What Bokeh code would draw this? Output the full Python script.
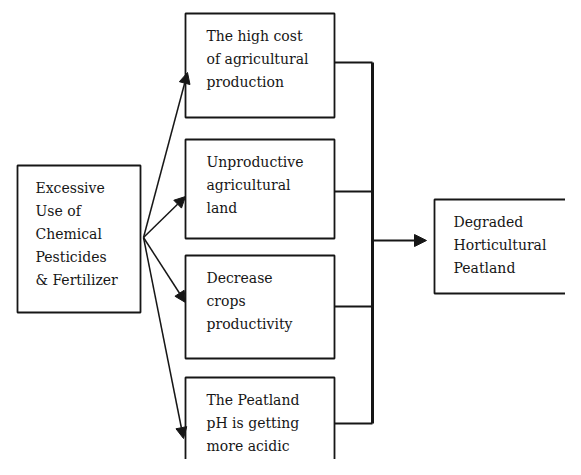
from bokeh.plotting import figure
from bokeh.models import Range1d, Arrow, NormalHead
from bokeh.core.properties import value
from bokeh.embed import file_html
from bokeh.resources import INLINE

# ---- content ----
source_lines = ["Excessive", "Use of", "Chemical", "Pesticides", "& Fertilizer"]
cause_lines = [
    ["The high cost", "of agricultural", "production"],
    ["Unproductive", "agricultural", "land"],
    ["Decrease", "crops", "productivity"],
    ["The Peatland", "pH is getting", "more acidic"],
]
outcome_lines = ["Degraded", "Horticultural", "Peatland"]

# ---- layout (pixel-like coordinates, y downward) ----
src_box = (17, 140, 165, 312)          # left, right, top, bottom
cause_left, cause_right = 185, 334
cause_tops = [13, 139, 255, 377]
cause_bottoms = [117, 238, 358, 500]
cause_join_y = [62, 191, 306, 423]
arrow_tip = [(187, 72), (185, 196), (185, 302), (183, 438)]
arrow_origin = (143, 237)
bus_x = 372
out_box = (434, 620, 199, 293)
out_arrow_y = 240
line_gap = 23
first_offset = 22

FONT = "DejaVu Serif"
FS = "14px"
INK = "#161616"

p = figure(width=565, height=459, output_backend="svg", toolbar_location=None,
           x_range=Range1d(0, 565), y_range=Range1d(459, 0),
           min_border=0, outline_line_color=None)
p.axis.visible = False
p.grid.visible = False
p.background_fill_color = "white"
p.border_fill_color = "white"

def box(l, r, t, b):
    p.quad(left=[l], right=[r], top=[t], bottom=[b], fill_color="white",
           line_color=INK, line_width=1.8)

def lines(x, top, texts):
    ys = [top + first_offset + i * line_gap for i in range(len(texts))]
    p.text(x=[x] * len(texts), y=ys, text=texts, text_font=value(FONT),
           text_font_size=FS, text_baseline="middle", text_align="left",
           text_color=INK)

# connectors (drawn first so boxes sit on top)
for y in cause_join_y:
    p.line([cause_right, bus_x], [y, y], line_color=INK, line_width=1.8)
p.line([bus_x, bus_x], [cause_join_y[0], cause_join_y[-1]], line_color=INK, line_width=3)

# arrows from source
for tx, ty in arrow_tip:
    p.add_layout(Arrow(x_start=arrow_origin[0], y_start=arrow_origin[1], x_end=tx, y_end=ty,
                       line_color=INK, line_width=1.5,
                       end=NormalHead(size=11, fill_color=INK, line_color=INK)))
p.add_layout(Arrow(x_start=bus_x, y_start=out_arrow_y, x_end=426, y_end=out_arrow_y,
                   line_color=INK, line_width=1.8,
                   end=NormalHead(size=12, fill_color=INK, line_color=INK)))

box(*src_box)
lines(35, src_box[2], source_lines)
for t, b, texts in zip(cause_tops, cause_bottoms, cause_lines):
    box(cause_left, cause_right, t, b)
    lines(206, t, texts)
box(*out_box)
lines(453, out_box[2], outcome_lines)

open("out.html", "w").write(file_html(p, INLINE))
